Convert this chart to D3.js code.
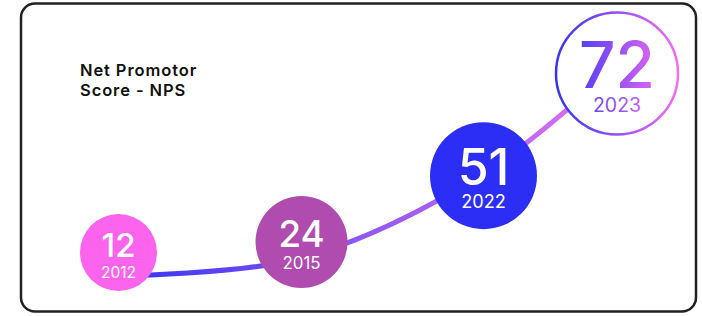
<!DOCTYPE html>
<html>
<head>
<meta charset="utf-8">
<script src="https://cdn.jsdelivr.net/npm/d3@7"></script>
<style>
  html, body { margin: 0; padding: 0; background: #ffffff; }
  svg { display: block; }
</style>
</head>
<body>
<div id="chart"></div>
<script>
// ---- data ----
const years = ["2012", "2015", "2022", "2023"];
const npsValues = [12, 24, 51, 72];
const titleLines = ["Net Promotor", "Score - NPS"];
const fillColors = ["#fd64ee", "#b04cb0", "#2d2ef5", "#ffffff"];

const W = 702, H = 316;
const svg = d3.select("#chart").append("svg").attr("width", W).attr("height", H);
const defs = svg.append("defs");

// frame
svg.append("rect")
  .attr("x", 21).attr("y", 3.5).attr("width", 675).attr("height", 308)
  .attr("rx", 14).attr("ry", 14)
  .attr("fill", "#ffffff").attr("stroke", "#222222").attr("stroke-width", 2.5);

// title
svg.append("text")
  .attr("x", 80).attr("y", 76)
  .attr("font-family", "Inter, 'Noto Sans', sans-serif")
  .attr("font-size", 16.5).attr("font-weight", 600).attr("fill", "#111")
  .attr("letter-spacing", 0.9)
  .selectAll("tspan").data(titleLines).join("tspan")
  .attr("x", 80).attr("dy", (d, i) => i === 0 ? 0 : 20).text(d => d);

const data = years.map((y, i) => ({ year: y, value: npsValues[i], i, fill: fillColors[i] }));
const last = data.length - 1;

// scales
const x = d3.scaleLinear().domain(years.map(Number)).range([118.5, 301.5, 483.5, 617]);
const yLine = d3.scalePow().exponent(2).domain([0, 72]).range([282, 66]);
const yCircle = d3.scalePow().exponent(2.4).domain([0, 72]).range([255, 73.5]);
const rScale = d3.scaleLinear().domain([0, last]).range([38.5, 61]);
const numFont = d3.scalePow().exponent(1.6).domain([12, 72]).range([33, 64]);
const yearFont = d3.scaleLinear().domain([0, last]).range([15.5, 19.5]);

// gradients
const lg = defs.append("linearGradient").attr("id", "lineGrad")
  .attr("gradientUnits", "userSpaceOnUse")
  .attr("x1", x(+years[0])).attr("x2", x(+years[last])).attr("y1", 0).attr("y2", 0);
lg.append("stop").attr("offset", 0).attr("stop-color", "#3434f5");
lg.append("stop").attr("offset", 0.5).attr("stop-color", "#9458f5");
lg.append("stop").attr("offset", 1).attr("stop-color", "#e470f3");

const rg = defs.append("linearGradient").attr("id", "ringGrad")
  .attr("x1", 0).attr("x2", 1).attr("y1", 0).attr("y2", 0);
rg.append("stop").attr("offset", 0).attr("stop-color", "#3535f5");
rg.append("stop").attr("offset", 1).attr("stop-color", "#f66cf0");

const tg = defs.append("linearGradient").attr("id", "textGrad")
  .attr("x1", 0).attr("x2", 1).attr("y1", 0).attr("y2", 0);
tg.append("stop").attr("offset", 0).attr("stop-color", "#5340f5");
tg.append("stop").attr("offset", 1).attr("stop-color", "#dc63f2");

// line
const line = d3.line()
  .x(d => x(+d.year))
  .y(d => yLine(d.value))
  .curve(d3.curveCatmullRom.alpha(0.5));

svg.append("path").datum(data)
  .attr("d", line)
  .attr("fill", "none")
  .attr("stroke", "url(#lineGrad)")
  .attr("stroke-width", 5)
  .attr("stroke-linecap", "round");

// bubbles
const g = svg.selectAll("g.bubble").data(data).join("g").attr("class", "bubble")
  .attr("transform", d => `translate(${x(+d.year)},${yCircle(d.value)})`);

g.append("circle")
  .attr("r", d => rScale(d.i))
  .attr("fill", d => d.fill)
  .attr("stroke", d => d.i === last ? "url(#ringGrad)" : "none")
  .attr("stroke-width", 2.5);

const CAP = 0.727;
g.each(function (d) {
  const sel = d3.select(this);
  const fn = numFont(d.value), fy = yearFont(d.i);
  const hBlock = CAP * fn + 10 + CAP * fy;
  const top = -hBlock / 2 + 3;
  const color = d.i === last ? "url(#textGrad)" : "#ffffff";
  const t = sel.append("text")
    .attr("text-anchor", "middle")
    .attr("font-family", "Inter, 'Noto Sans', sans-serif")
    .attr("fill", color);
  t.append("tspan")
    .attr("x", 0).attr("y", top + CAP * fn)
    .attr("font-size", fn).attr("font-weight", 500)
    .text(d.value);
  t.append("tspan")
    .attr("x", 0).attr("y", top + CAP * fn + 10 + CAP * fy)
    .attr("font-size", fy).attr("font-weight", 400)
    .text(d.year);
});
</script>
</body>
</html>
